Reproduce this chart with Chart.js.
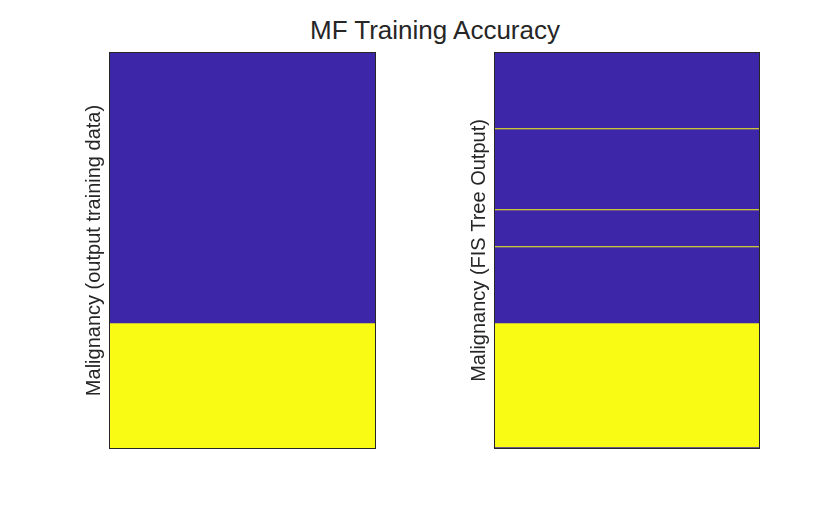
<!DOCTYPE html>
<html>
<head>
<meta charset="utf-8">
<script src="https://cdn.jsdelivr.net/npm/chart.js@4.4.1/dist/chart.umd.min.js"></script>
<style>
  html, body { margin: 0; padding: 0; background: #ffffff; overflow: hidden; }
  body { width: 840px; height: 506px; position: relative; }
  .panel { position: absolute; top: 0; width: 420px; height: 506px; }
  #title { position: absolute; left: 235px; width: 400px; top: 17px; text-align: center;
           font-family: "Liberation Sans", Arial, sans-serif; font-size: 26px; line-height: 1;
           color: #262626; white-space: nowrap; }
</style>
</head>
<body>
<div id="title"></div>
<div class="panel" style="left:0px"><canvas id="left"></canvas></div>
<div class="panel" style="left:420px"><canvas id="right"></canvas></div>
<script>
// ---- data ----
const titleText = 'MF Training Accuracy';
const rowCount = 397;                 // rows of the image (samples)
const outputRunStart = [0, 271];
const outputRunEnd   = [271, 397];
const outputRunValue = [0, 1];
const fisRunStart = [0, 76, 77, 157, 158, 194, 195, 271, 395];
const fisRunEnd   = [76, 77, 157, 158, 194, 195, 271, 395, 397];
const fisRunValue = [0, 1, 0, 1, 0, 1, 0, 1, 0];
const yLabelLeft  = 'Malignancy (output training data)';
const yLabelRight = 'Malignancy (FIS Tree Output)';
const columnLabels = ['sample'];

// parula endpoints
const colorLow = 'rgb(62,38,168)';
const colorHigh = 'rgb(249,251,21)';
const textColor = '#262626';

document.getElementById('title').textContent = titleText;

const framePlugin = {
  id: 'frame',
  afterDatasetsDraw(chart) {
    const a = chart.chartArea, ctx = chart.ctx;
    ctx.save();
    ctx.strokeStyle = textColor;
    ctx.lineWidth = 1;
    const l = Math.round(a.left), t = Math.round(a.top), r = Math.round(a.right), b = Math.round(a.bottom);
    ctx.strokeRect(l + 0.5, t + 0.5, r - l - 1, b - t - 1);
    ctx.restore();
  }
};

function makeChart(id, starts, ends, values, label, padding) {
  const datasets = starts.map((s, i) => ({
    data: [[s, ends[i]]],
    backgroundColor: values[i] ? colorHigh : colorLow,
    borderWidth: 0,
    barPercentage: 1,
    categoryPercentage: 1,
    grouped: false
  }));
  return new Chart(document.getElementById(id), {
    type: 'bar',
    data: { labels: columnLabels, datasets },
    options: {
      responsive: true,
      maintainAspectRatio: false,
      animation: false,
      events: [],
      layout: { padding },
      plugins: { legend: { display: false }, tooltip: { enabled: false } },
      scales: {
        x: { type: 'category', display: false, offset: true, grid: { display: false } },
        y: {
          type: 'linear', min: 0, max: rowCount, reverse: true,
          ticks: { display: false },
          grid: { display: false, drawTicks: false },
          border: { display: false },
          title: {
            display: true, text: label, color: textColor,
            font: { family: '"Liberation Sans", Arial, sans-serif', size: 20, weight: 'normal' },
            padding: { top: 0, bottom: 3 }
          }
        }
      }
    },
    plugins: [framePlugin]
  });
}

makeChart('left', outputRunStart, outputRunEnd, outputRunValue, yLabelLeft,
          { left: 82, right: 44, top: 52, bottom: 57 });
makeChart('right', fisRunStart, fisRunEnd, fisRunValue, yLabelRight,
          { left: 47, right: 80, top: 52, bottom: 57 });
</script>
</body>
</html>
